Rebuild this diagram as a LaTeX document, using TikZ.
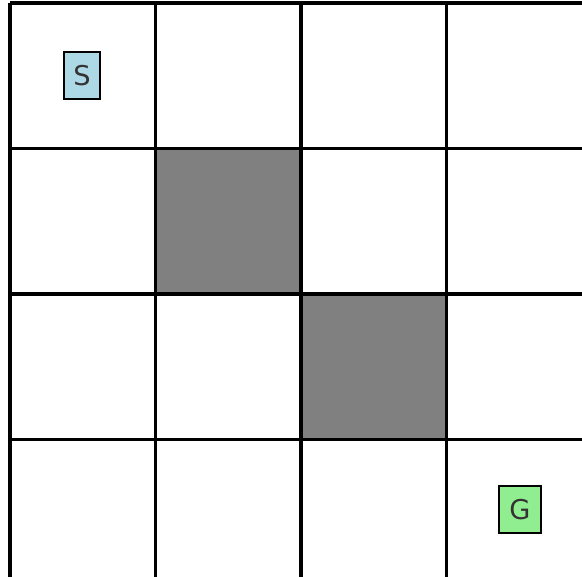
\documentclass[tikz,border=0pt]{standalone}
\usepackage{fontspec}
\setmainfont{DejaVu Sans}
\usetikzlibrary{positioning}
\definecolor{wall}{HTML}{808080}
\definecolor{startc}{HTML}{ADD8E6}
\definecolor{goalc}{HTML}{90EE90}
\definecolor{txt}{HTML}{333333}

\begin{document}
\begin{tikzpicture}[x=0.02cm, y=-0.02cm,
    gridline/.style={line width=0.07cm, black},
    marker/.style={draw, line width=0.04cm, inner sep=0pt, minimum height=0.94cm,
                   font=\fontsize{15.5}{18}\selectfont, text=txt}
]
    \useasboundingbox (0,0) rectangle (582,577);
    \fill[white] (0,0) rectangle (582,577);

    % 障碍格
    \fill[wall] (155.5,148.5) rectangle (301,293.5);
    \fill[wall] (301,293.5) rectangle (447,438.5);

    % 网格线
    \foreach \i in {0,...,3} {
        \draw[gridline] (10+\i*145.5,3) -- (10+\i*145.5,577);
        \draw[gridline] (10,3+\i*145.5) -- (582,3+\i*145.5);
    }

    % 起点与终点
    \node[marker, fill=startc, minimum width=0.74cm] (S) at (82,75.5) {S};
    \node[marker, fill=goalc, minimum width=0.84cm] (G) at (520,509.5) {G};
\end{tikzpicture}
\end{document}
